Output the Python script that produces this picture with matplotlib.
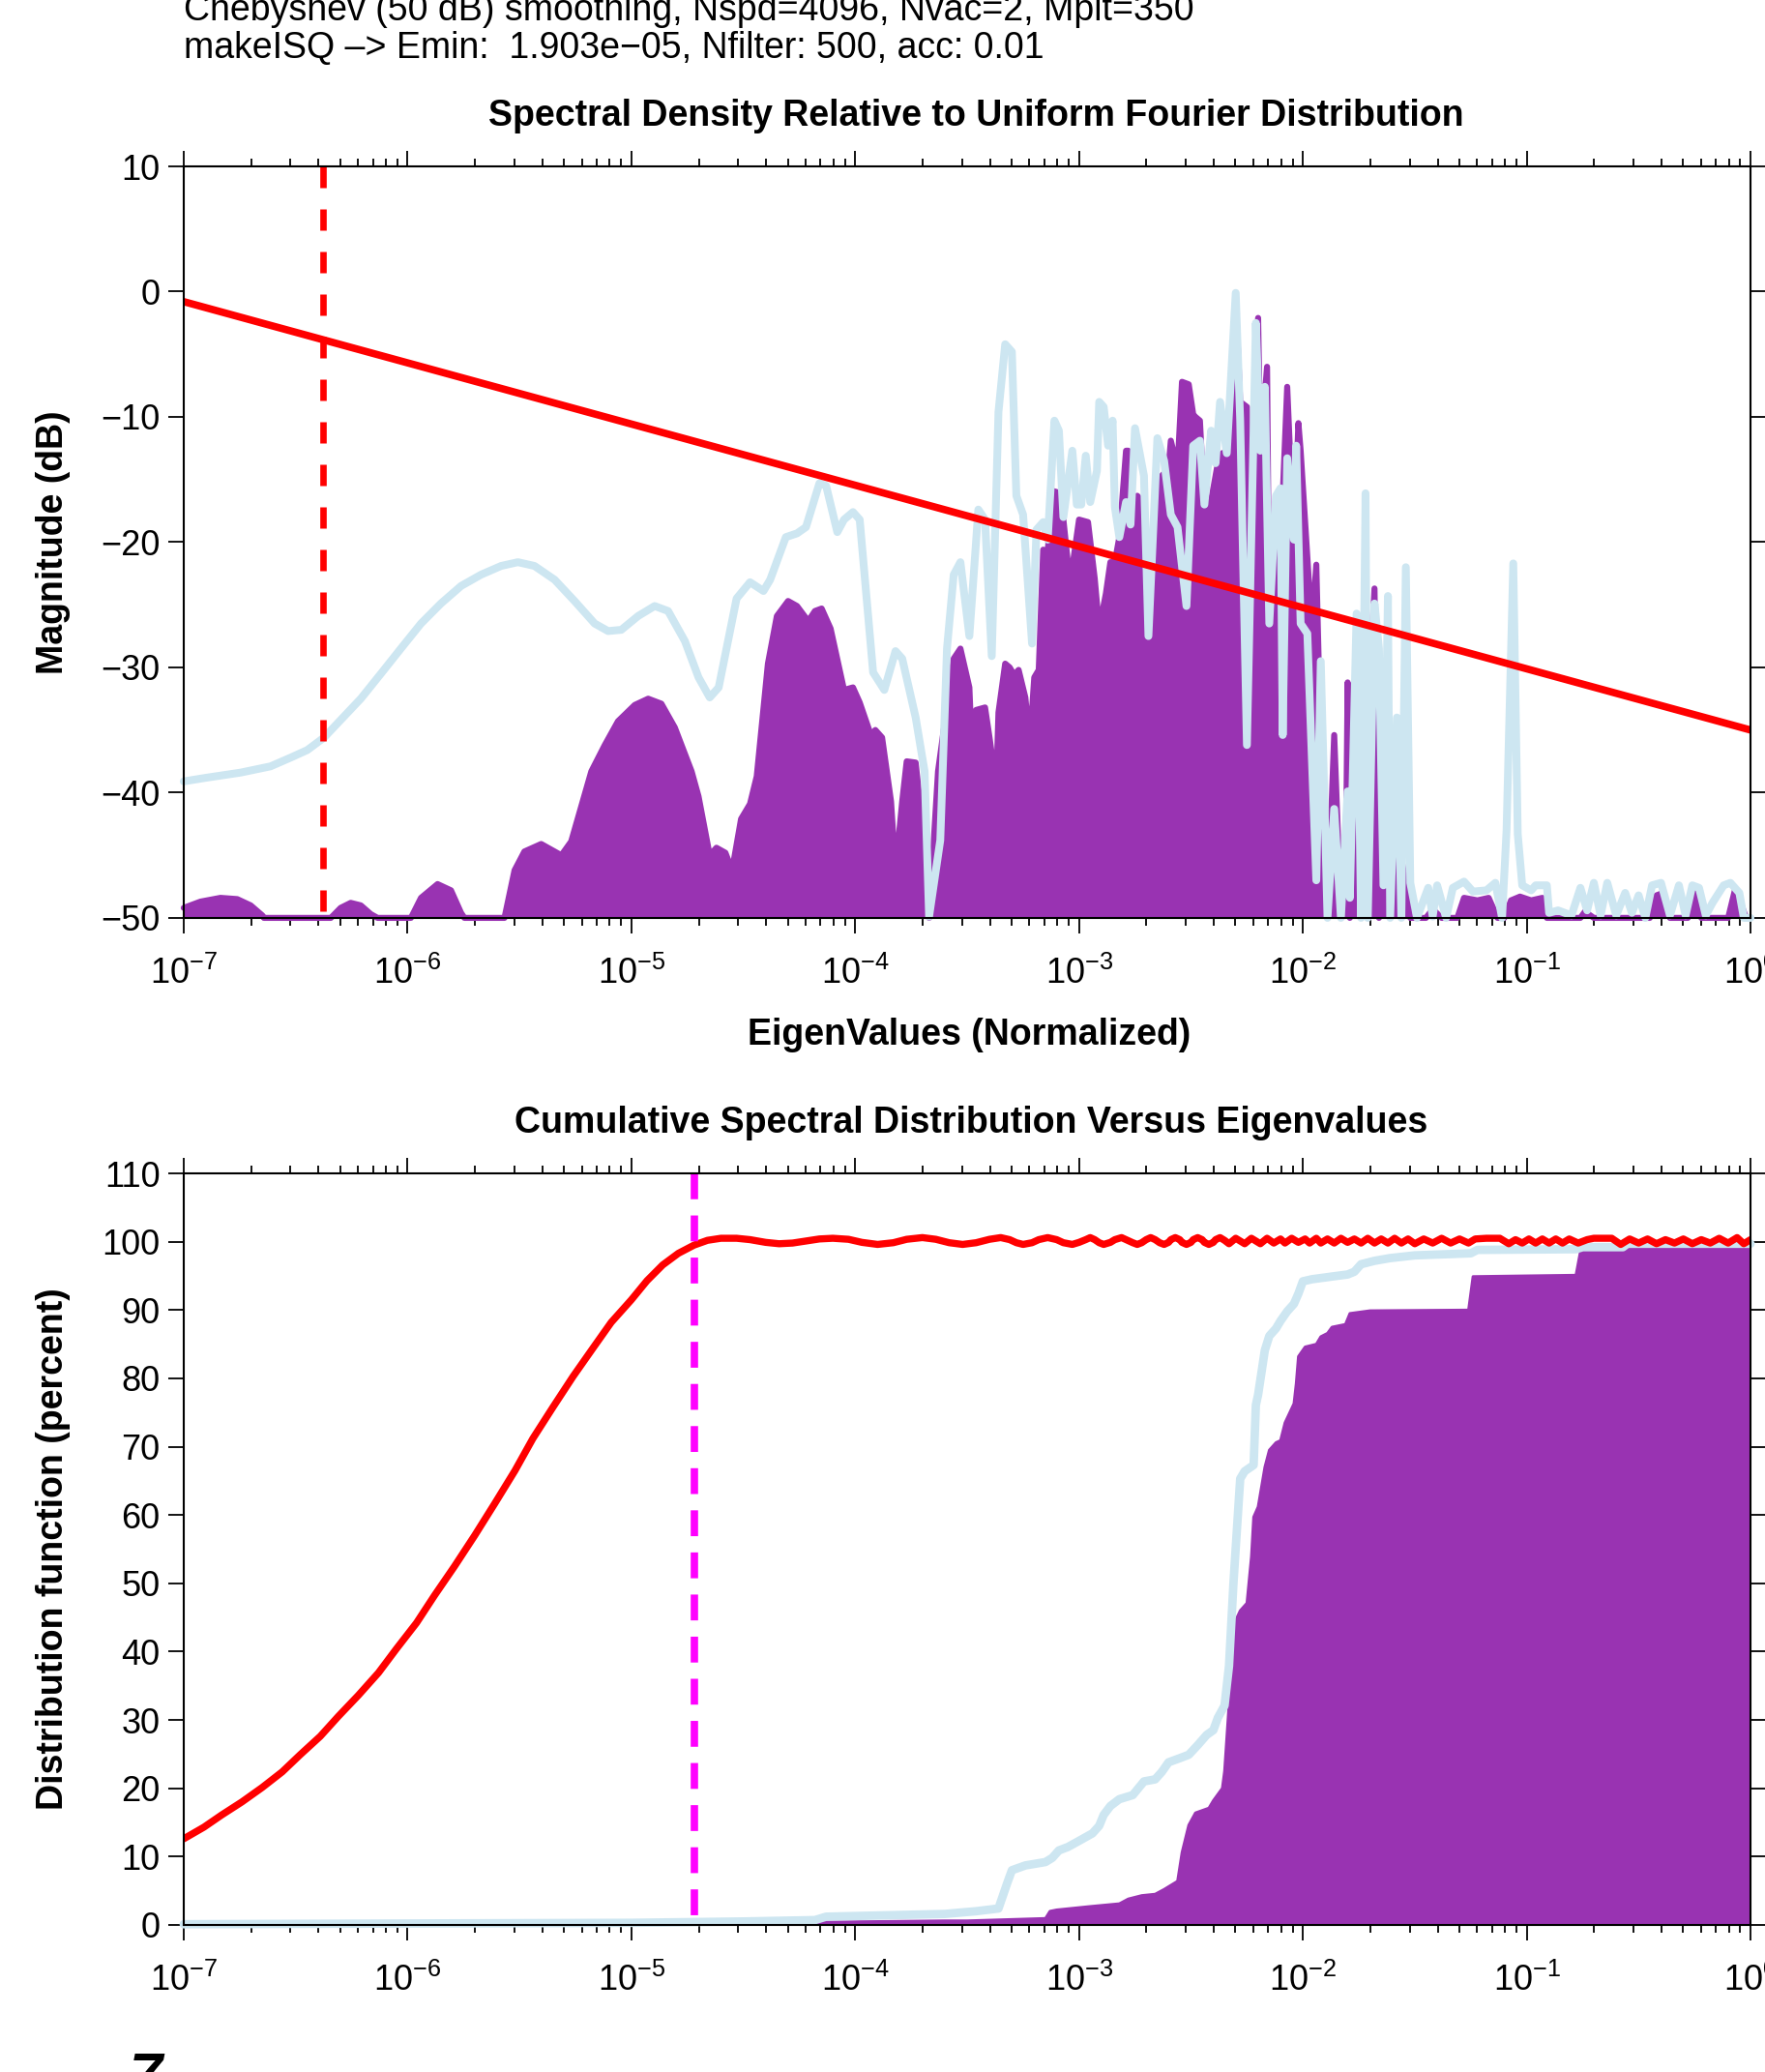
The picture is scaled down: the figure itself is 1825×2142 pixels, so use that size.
import numpy as np
import matplotlib
matplotlib.use("Agg")
import matplotlib.pyplot as plt

plt.rcParams['font.family'] = ['Liberation Sans', 'DejaVu Sans']
plt.rcParams['mathtext.fontset'] = 'custom'
plt.rcParams['mathtext.rm'] = 'Liberation Sans'
plt.rcParams['mathtext.it'] = 'Liberation Sans:italic'
plt.rcParams['mathtext.bf'] = 'Liberation Sans:bold'

# ---- data (x given as log10 of normalized eigenvalue) ----
emin_top = 4.2e-7
emin = 1.903e-5

red_top_x = [1e-7, 1.0]
red_top_y = [-0.8, -35.0]

purple_top_lx = [-7.000, -6.925, -6.836, -6.761, -6.701, -6.649, -6.642, -6.343, -6.299, -6.254, -6.209, -6.164,
                 -6.134, -5.985, -5.940, -5.866, -5.806, -5.761, -5.746, -5.567, -5.522, -5.478, -5.403, -5.313,
                 -5.269, -5.179, -5.119, -5.060, -4.985, -4.925, -4.866, -4.806, -4.731, -4.70,
                 -4.65, -4.62, -4.58, -4.55,
                 -4.51, -4.47, -4.44, -4.39, -4.35, -4.30, -4.26, -4.21, -4.18, -4.15, -4.11, -4.05, -4.01, -3.98,
                 -3.93, -3.91, -3.88, -3.84, -3.82, -3.79, -3.77, -3.73, -3.69, -3.67, -3.63, -3.60, -3.56, -3.53,
                 -3.49, -3.48, -3.46, -3.42, -3.40, -3.37, -3.36, -3.33, -3.31, -3.29, -3.27, -3.24, -3.22, -3.20,
                 -3.18, -3.16, -3.14, -3.12, -3.10, -3.07, -3.05, -3.03, -3.00, -2.96, -2.93, -2.91, -2.88, -2.86,
                 -2.84, -2.82, -2.79, -2.78, -2.76, -2.74, -2.72, -2.69, -2.67, -2.66, -2.63, -2.60, -2.59, -2.56,
                 -2.54, -2.51, -2.49, -2.48, -2.46, -2.44, -2.41, -2.38, -2.36, -2.33, -2.30, -2.28, -2.25, -2.24,
                 -2.22, -2.20, -2.19, -2.16, -2.15, -2.12, -2.09, -2.07, -2.04, -2.02, -2.01, -1.96, -1.94, -1.92,
                 -1.89, -1.86, -1.84, -1.81, -1.80, -1.79, -1.76, -1.74, -1.72, -1.68, -1.66, -1.62, -1.58, -1.54,
                 -1.52, -1.45, -1.42, -1.38, -1.31, -1.28, -1.22, -1.17, -1.13, -1.10, -1.07, -1.03, -0.98, -0.93,
                 -0.91, -0.76, -0.74, -0.70, -0.45, -0.42, -0.39, -0.36, -0.28, -0.25, -0.22, -0.10, -0.07, -0.05,
                 -0.02, 0.00]
purple_top_db = [-49.2, -48.7, -48.4, -48.5, -49.0, -49.8, -50.0, -50.0, -49.2, -48.8, -49.0, -49.7,
                 -50.0, -50.0, -48.4, -47.3, -47.8, -49.6, -50.0, -50.0, -46.2, -44.7, -44.1, -45.0,
                 -43.9, -38.3, -36.2, -34.3, -33.0, -32.5, -32.9, -34.8, -38.3, -40.3,
                 -45.0, -44.4, -44.8, -46.2,
                 -42.1, -40.9, -38.7, -29.7, -25.9, -24.7, -25.1, -26.3, -25.5, -25.3, -26.9, -31.8, -31.6, -32.8,
                 -35.4, -35.0, -35.6, -40.7, -46.2, -40.7, -37.5, -37.6, -44.2, -50.0, -38.3, -34.4, -29.3, -28.5,
                 -31.6, -36.0, -33.4, -33.2, -35.6, -39.5, -33.6, -29.7, -30.0, -30.6, -30.2, -32.4, -36.0, -30.8,
                 -30.2, -20.6, -20.8, -15.9, -16.0, -18.2, -21.6, -22.0, -18.2, -18.4, -22.9, -26.9, -24.1, -21.6,
                 -21.6, -19.6, -12.7, -12.7, -18.2, -16.3, -16.7, -21.4, -20.2, -16.7, -14.7, -14.1, -11.9, -14.1,
                 -7.2, -7.4, -9.8, -10.0, -10.3, -17.2, -16.7, -13.7, -12.9, -12.7, -0.5, -8.8, -9.2, -20.6,
                 -12.7, -2.1, -12.7, -6.0, -26.5, -16.3, -16.3, -7.6, -20.2, -10.5, -12.7, -26.9, -21.8, -36.4,
                 -50.0, -35.4, -45.0, -49.4, -31.2, -50.0, -36.4, -50.0, -38.3, -23.7, -50.0, -40.3, -43.4, -47.2,
                 -50.0, -50.0, -49.3, -50.0, -50.0, -48.4, -48.6, -48.4, -50.0, -50.0, -48.6, -48.3, -48.6, -48.4,
                 -50.0, -50.0, -49.5, -50.0, -50.0, -48.2, -48.0, -50.0, -50.0, -48.0, -50.0, -50.0, -47.8, -48.5,
                 -50.0, -50.0]

blue_top_lx = [-7.000, -6.896, -6.746, -6.612, -6.522, -6.448, -6.373, -6.299, -6.209, -6.119, -6.030, -5.940,
               -5.851, -5.761, -5.672, -5.582, -5.507, -5.433, -5.343, -5.254, -5.164, -5.104, -5.045, -4.970,
               -4.896, -4.836, -4.761, -4.70, -4.65, -4.61, -4.53, -4.47, -4.41, -4.38, -4.31, -4.26, -4.22, -4.16, -4.13,
               -4.08, -4.05, -4.01, -3.98, -3.92, -3.87, -3.82, -3.79, -3.73, -3.69, -3.67, -3.62, -3.59, -3.56,
               -3.53, -3.49, -3.45, -3.42, -3.39, -3.36, -3.33, -3.30, -3.28, -3.25, -3.21, -3.19, -3.16, -3.14,
               -3.11, -3.09, -3.07, -3.03, -3.01, -2.99, -2.97, -2.95, -2.92, -2.91, -2.89, -2.87, -2.85, -2.84,
               -2.82, -2.79, -2.77, -2.75, -2.71, -2.69, -2.65, -2.62, -2.59, -2.56, -2.52, -2.49, -2.46, -2.44,
               -2.41, -2.39, -2.37, -2.34, -2.30, -2.28, -2.25, -2.21, -2.19, -2.17, -2.15, -2.12, -2.10, -2.09,
               -2.07, -2.04, -2.03, -2.01, -1.98, -1.94, -1.92, -1.89, -1.86, -1.83, -1.80, -1.79, -1.76, -1.74,
               -1.72, -1.71, -1.68, -1.66, -1.64, -1.62, -1.61, -1.58, -1.56, -1.54, -1.52, -1.49, -1.44, -1.42,
               -1.40, -1.36, -1.33, -1.31, -1.28, -1.24, -1.18, -1.14, -1.11, -1.09, -1.06, -1.04, -1.02, -0.98,
               -0.96, -0.91, -0.90, -0.86, -0.80, -0.76, -0.73, -0.70, -0.67, -0.64, -0.60, -0.56, -0.53, -0.50,
               -0.47, -0.44, -0.40, -0.36, -0.32, -0.29, -0.26, -0.23, -0.20, -0.17, -0.12, -0.09, -0.05, -0.03,
               0.00]
blue_top_db = [-39.1, -38.8, -38.4, -37.9, -37.2, -36.6, -35.6, -34.2, -32.5, -30.5, -28.5, -26.5,
               -24.9, -23.5, -22.6, -21.9, -21.6, -21.9, -23.0, -24.7, -26.5, -27.1, -27.0, -25.9,
               -25.1, -25.5, -27.9, -30.8, -32.4, -31.6, -24.5, -23.2, -23.9, -23.0, -19.6, -19.3, -18.8, -15.3, -15.5,
               -19.2, -18.2, -17.6, -18.2, -30.4, -31.8, -28.7, -29.3, -34.0, -38.3, -49.9, -43.8, -28.5, -22.6,
               -21.6, -27.5, -17.4, -18.2, -29.1, -9.6, -4.2, -4.8, -16.3, -17.8, -28.1, -19.0, -18.4, -19.8,
               -10.3, -11.1, -18.0, -12.7, -17.0, -17.0, -13.1, -16.8, -14.3, -8.8, -9.2, -12.3, -10.3, -17.2,
               -19.6, -16.8, -18.6, -10.9, -14.7, -27.5, -11.7, -13.5, -17.8, -18.8, -25.1, -12.3, -11.9, -17.0,
               -11.1, -13.7, -8.8, -12.9, -0.1, -10.3, -36.2, -2.5, -12.7, -7.6, -26.5, -16.3, -15.7, -35.4,
               -13.3, -19.8, -12.3, -26.5, -27.3, -47.0, -29.5, -50.0, -41.3, -50.0, -39.9, -48.4, -25.7, -50.0,
               -16.1, -50.0, -24.9, -28.5, -47.4, -24.3, -50.0, -34.0, -50.0, -22.0, -47.2, -50.0, -47.6, -49.9,
               -47.4, -50.0, -47.6, -47.4, -47.1, -47.9, -47.8, -47.2, -50.0, -43.0, -21.7, -43.3, -47.4, -47.8,
               -47.4, -47.4, -49.6, -49.4, -49.8, -47.6, -49.4, -47.2, -49.8, -47.2, -49.8, -48.0, -49.6, -48.2,
               -50.0, -47.4, -47.2, -49.8, -47.4, -49.8, -47.4, -47.6, -49.8, -48.8, -47.4, -47.2, -48.0, -50.0,
               -50.0]

red_bot_lx = [-7.00, -6.91, -6.83, -6.74, -6.65, -6.56, -6.48, -6.39, -6.31, -6.22, -6.13, -6.05, -5.96, -5.88,
              -5.79, -5.70, -5.61, -5.52, -5.44, -5.35, -5.26, -5.17, -5.09, -5.00, -4.93, -4.86, -4.79, -4.72,
              -4.66, -4.60, -4.53, -4.47, -4.40, -4.34, -4.28, -4.22, -4.16, -4.10, -4.03, -3.97, -3.90, -3.83,
              -3.77, -3.70, -3.64, -3.58, -3.52, -3.46, -3.40, -3.35, -3.31, -3.28, -3.25, -3.21, -3.18, -3.14,
              -3.10, -3.07, -3.03, -3.00, -2.97, -2.95, -2.93, -2.91, -2.89, -2.86, -2.84, -2.81, -2.79, -2.76,
              -2.74, -2.72, -2.70, -2.68, -2.66, -2.64, -2.62, -2.60, -2.59, -2.57, -2.55, -2.54, -2.52, -2.50,
              -2.49, -2.47, -2.45, -2.44, -2.42, -2.40, -2.39, -2.37, -2.35, -2.33, -2.30, -2.26, -2.23,
              -2.19, -2.16, -2.13, -2.10, -2.08, -2.05, -2.02, -1.99, -1.97, -1.94, -1.92, -1.89, -1.86, -1.83,
              -1.80, -1.77, -1.74, -1.71, -1.68, -1.65, -1.62, -1.59, -1.56, -1.53, -1.50, -1.46, -1.42, -1.38,
              -1.34, -1.30, -1.26, -1.23, -1.18, -1.12, -1.08, -1.05, -1.02, -0.99, -0.96, -0.93, -0.90, -0.87,
              -0.84, -0.81, -0.77, -0.73, -0.70, -0.62, -0.58, -0.54, -0.50, -0.46, -0.42, -0.38, -0.34, -0.30,
              -0.26, -0.22, -0.18, -0.14, -0.10, -0.06, -0.03, 0.00]
red_bot_pct = [12.6, 14.3, 16.1, 18.0, 20.1, 22.4, 24.9, 27.6, 30.5, 33.6, 36.9, 40.4, 44.2, 48.2,
               52.5, 57.0, 61.7, 66.5, 71.2, 75.8, 80.3, 84.5, 88.2, 91.5, 94.3, 96.6, 98.3, 99.5,
               100.2, 100.5, 100.5, 100.3, 99.9, 99.7, 99.8, 100.1, 100.4, 100.5, 100.35, 99.9, 99.6, 99.85,
               100.35, 100.6, 100.35, 99.85, 99.6, 99.85, 100.35, 100.6, 100.3, 99.85, 99.6, 99.85, 100.3, 100.6,
               100.3, 99.85, 99.6, 99.9, 100.3, 100.6, 100.3, 99.85, 99.6, 99.9, 100.3, 100.6, 100.3, 99.85,
               99.6, 99.85, 100.3, 100.6, 100.3, 99.85, 99.6, 99.9, 100.3, 100.6, 100.3, 99.9, 99.6, 99.9,
               100.3, 100.6, 100.3, 99.9, 99.6, 99.9, 100.3, 100.6, 100.2, 99.7, 100.5, 99.7, 100.5,
               99.7, 100.5, 99.8, 100.4, 99.8, 100.5, 99.9, 100.4, 99.8, 100.5, 99.8, 100.4, 99.8, 100.5,
               99.9, 100.4, 99.8, 100.5, 99.8, 100.4, 99.8, 100.5, 99.8, 100.4, 99.7, 100.4, 99.8, 100.5,
               99.8, 100.4, 99.8, 100.4, 100.5, 100.5, 99.7, 100.3, 99.8, 100.4, 99.8, 100.4, 99.8, 100.4,
               99.8, 100.4, 99.8, 100.3, 100.5, 100.5, 99.6, 100.4, 99.8, 100.4, 99.7, 100.3, 99.8, 100.4,
               99.7, 100.3, 99.8, 100.5, 99.8, 100.6, 99.7, 100.3]

purple_bot_lx = [-7.00, -5.40, -4.60, -4.18, -3.60, -3.50, -3.15, -3.13, -3.10, -2.95, -2.82, -2.78, -2.72, -2.66,
                 -2.62, -2.56, -2.54, -2.51, -2.48, -2.42, -2.40, -2.36, -2.35, -2.33, -2.32, -2.30, -2.28, -2.25,
                 -2.23, -2.22, -2.20, -2.17, -2.15, -2.12, -2.10, -2.08, -2.04, -2.03, -2.02, -1.99, -1.94, -1.92,
                 -1.89, -1.87, -1.81, -1.79, -1.70, -1.26, -1.24, -0.78, -0.76, -0.59, -0.58, 0.00]
purple_bot_pct = [0.0, 0.0, 0.2, 0.4, 0.6, 0.6, 0.95, 2.0, 2.2, 2.7, 3.1, 3.8, 4.3, 4.5,
                  5.2, 6.4, 10.6, 14.6, 16.4, 17.1, 18.2, 20.0, 22.5, 32.3, 39.5, 44.6, 46.0, 47.1,
                  53.9, 59.7, 61.2, 67.0, 69.5, 70.6, 70.9, 73.5, 76.3, 79.2, 83.2, 84.6, 85.0, 86.1,
                  86.6, 87.5, 87.9, 89.5, 89.9, 90.0, 94.9, 95.1, 98.6, 98.7, 99.4, 99.4]

blue_bot_lx = [-7.00, -5.00, -4.50, -4.18, -4.13, -3.60, -3.46, -3.36, -3.32, -3.30, -3.24, -3.15, -3.12, -3.09,
               -3.05, -3.00, -2.94, -2.91, -2.89, -2.86, -2.82, -2.76, -2.71, -2.66, -2.63, -2.60, -2.55, -2.51,
               -2.47, -2.43, -2.40, -2.38, -2.35, -2.33, -2.31, -2.30, -2.28, -2.26, -2.22, -2.21, -2.20, -2.17,
               -2.15, -2.12, -2.10, -2.07, -2.04, -2.02, -2.00, -1.96, -1.87, -1.80, -1.77, -1.74, -1.68, -1.61,
               -1.50, -1.25, -1.22, -0.78, -0.75, -0.57, -0.55, 0.00]
blue_bot_pct = [0.1, 0.3, 0.5, 0.7, 1.2, 1.6, 2.0, 2.4, 6.2, 8.0, 8.7, 9.2, 9.8, 10.9,
                11.4, 12.3, 13.4, 14.5, 16.1, 17.4, 18.4, 19.0, 21.0, 21.3, 22.4, 23.8, 24.4, 24.9,
                26.3, 27.8, 28.5, 30.3, 32.1, 37.9, 50.1, 55.2, 65.3, 66.4, 67.3, 76.1, 77.6, 84.1,
                86.2, 87.3, 88.4, 89.8, 90.9, 92.4, 94.2, 94.5, 94.9, 95.2, 95.6, 96.7, 97.2, 97.6,
                98.0, 98.3, 98.8, 98.9, 99.2, 99.2, 99.7, 99.7]

header1 = "Chebyshev (50 dB) smoothing, Nspd=4096, Nvac=2, Mplt=350"
header2 = "makeISQ \u2013> Emin:  1.903e\u221205, Nfilter: 500, acc: 0.01"

PURPLE = '#9933b2'
LBLUE = '#cde6f1'

fig = plt.figure(figsize=(18.25, 21.42), dpi=100)
ax1 = fig.add_axes([0.1041, 0.5570, 0.8877, 0.3627])
ax2 = fig.add_axes([0.1041, 0.0710, 0.8877, 0.3627])

px = 10.0 ** np.array(purple_top_lx)
ax1.fill_between(px, -50, purple_top_db, color=PURPLE, lw=0)
ax1.plot(px, purple_top_db, color=PURPLE, lw=4.5, solid_joinstyle='round', solid_capstyle='round', clip_on=False)
ax1.plot(10.0 ** np.array(blue_top_lx), blue_top_db, color=LBLUE, lw=5.8,
         solid_joinstyle='round', solid_capstyle='round', clip_on=False)
ax1.plot(red_top_x, red_top_y, color='red', lw=5.5)
ax1.plot([emin_top, emin_top], [10, -50], color='red', lw=4.8, dashes=(3.3, 3.3))

pb = 10.0 ** np.array(purple_bot_lx)
ax2.fill_between(pb, 0, purple_bot_pct, color=PURPLE, lw=0)
ax2.plot(pb, purple_bot_pct, color=PURPLE, lw=2)
ax2.plot(10.0 ** np.array(blue_bot_lx), blue_bot_pct, color=LBLUE, lw=6.3,
         solid_joinstyle='round', solid_capstyle='round', clip_on=False)
ax2.plot(10.0 ** np.array(red_bot_lx), red_bot_pct, color='red', lw=5.3,
         solid_joinstyle='round', solid_capstyle='round')
ax2.plot([emin, emin], [110, 0], color='magenta', lw=5.5, dashes=(3.5, 2.2))

for ax in (ax1, ax2):
    ax.set_xscale('log')
    ax.set_xlim(1e-7, 1)
    ax.tick_params(which='both', direction='out', top=True, right=True, labelsize=26, width=1.3)
    ax.tick_params(which='major', length=11.5)
    ax.tick_params(which='minor', length=5.8)
    ax.tick_params(axis='x', pad=17)
    ax.tick_params(axis='y', pad=6)
    for s in ax.spines.values():
        s.set_linewidth(1.5)

ax1.set_ylim(-50, 10)
ax1.set_yticks(np.arange(-50, 11, 10))
ax2.set_ylim(0, 110)
ax2.set_yticks(np.arange(0, 111, 10))

fig.text(0.1041, 0.9949, header1, fontsize=27, va='center', ha='left')
fig.text(0.1041, 0.9765, header2, fontsize=27, va='center', ha='left')
fig.text(0.553, 0.9440, "Spectral Density Relative to Uniform Fourier Distribution",
         fontsize=27, fontweight='bold', ha='center', va='center')
fig.text(0.549, 0.5005, "EigenValues (Normalized)", fontsize=27, fontweight='bold', ha='center', va='center')
fig.text(0.0301, 0.7383, "Magnitude (dB)", fontsize=27, fontweight='bold', rotation=90, ha='center', va='center')
fig.text(0.550, 0.4580, "Cumulative Spectral Distribution Versus Eigenvalues",
         fontsize=27, fontweight='bold', ha='center', va='center')
fig.text(0.0301, 0.2524, "Distribution function (percent)", fontsize=27, fontweight='bold',
         rotation=90, ha='center', va='center')
fig.text(0.0827, 0.0098, "7", fontsize=44, fontweight='bold', fontstyle='italic', ha='center', va='top')

fig.savefig('out.png', dpi=100)
